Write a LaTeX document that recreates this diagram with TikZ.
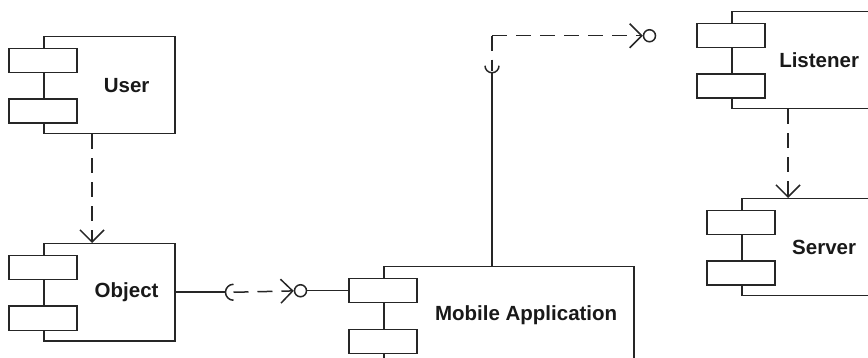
\documentclass[tikz,border=0pt]{standalone}
\usepackage{fontspec}
\setmainfont{Liberation Sans}
\usepackage{tikz}
\usetikzlibrary{arrows.meta, calc, positioning}
\tikzstyle{body}=[rectangle, draw, anchor=north west, minimum height=97pt]
\tikzstyle{port}=[rectangle, draw, fill=white, minimum width=68pt, minimum height=24pt, inner sep=0pt]
\tikzstyle{lbl}=[font=\bfseries\fontsize{20.5}{24}\selectfont, text=black!90]
\tikzstyle{ball}=[circle, draw, fill=white, minimum size=12pt, inner sep=0pt]
\tikzstyle{dashline}=[dash pattern=on 15pt off 9pt]
\tikzstyle{dep}=[dashline, -{Straight Barb[length=12pt, width=24pt]}]

\begin{document}
\begin{tikzpicture}[x=1pt, y=-1pt, line width=1.5pt, color=black!85]
\clip (0,0) rectangle (868,358);

% User
\node[body, minimum width=131pt] (user) at (43,36) {};
\node[port, below=12pt of user.north west] (user-p1) {};
\node[port, below=25pt of user-p1] (user-p2) {};
\node[lbl] (user-txt) at ($(user-p1.east |- user.center)!0.5!(user.east)$) {User};

% Object
\node[body, minimum width=131pt] (object) at (43,243) {};
\node[port, below=12pt of object.north west] (object-p1) {};
\node[port, below=25pt of object-p1] (object-p2) {};
\node[lbl] (object-txt) at ($(object-p1.east |- object.center)!0.5!(object.east)$) {Object};

% Mobile Application
\node[body, minimum width=250pt] (mobile) at (383,266) {};
\node[port, below=12pt of mobile.north west] (mobile-p1) {};
\node[port, below=25pt of mobile-p1] (mobile-p2) {};
\node[lbl] (mobile-txt) at ($(mobile-p1.east |- mobile.center)!0.5!(mobile.east)$) {Mobile Application};

% Listener
\node[body, minimum width=140pt] (listener) at (731,11) {};
\node[port, below=12pt of listener.north west] (listener-p1) {};
\node[port, below=25pt of listener-p1] (listener-p2) {};
\node[lbl] (listener-txt) at ($(listener-p1.east |- listener.center)!0.5!(listener.east)$) {Listener};

% Server
\node[body, minimum width=130pt] (server) at (741,198) {};
\node[port, below=12pt of server.north west] (server-p1) {};
\node[port, below=25pt of server-p1] (server-p2) {};
\node[lbl] (server-txt) at ($(server-p1.east |- server.center)!0.5!(server.east)$) {Server};

% dependencies
\draw[dep] ([xshift=49pt]user.south west) -- ([xshift=49pt]object.north west);
\draw[dep] ([xshift=57pt]listener.south west) -- ([xshift=57pt]listener.south west |- server.north);

% Object -> Mobile Application
\node[ball, left=41pt of mobile-p1] (ball1) {};
\coordinate (sock1) at ([xshift=58pt]object.east);
\draw ([xshift=-0.75pt]object.east) -- ([xshift=-8pt]sock1);
\draw ([yshift=8pt]sock1) arc[start angle=90, end angle=270, radius=8pt];
\draw[dep] (sock1) -- (ball1);
\draw (ball1) -- (mobile-p1);

% Mobile Application -> Listener
\node[ball, left=40pt of listener-p1] (ball2) {};
\coordinate (bend) at ([xshift=109pt]mobile.north west |- ball2);
\coordinate (sock2) at ([yshift=-30pt]bend);
\draw ([xshift=109pt]mobile.north west) -- ([yshift=-7pt]sock2);
\draw ([xshift=-7pt]sock2) arc[start angle=180, end angle=360, radius=7pt];
\draw[dashline] (bend) -- ([yshift=-5pt]sock2);
\draw[dep] (bend) -- (ball2);

\end{tikzpicture}
\end{document}
